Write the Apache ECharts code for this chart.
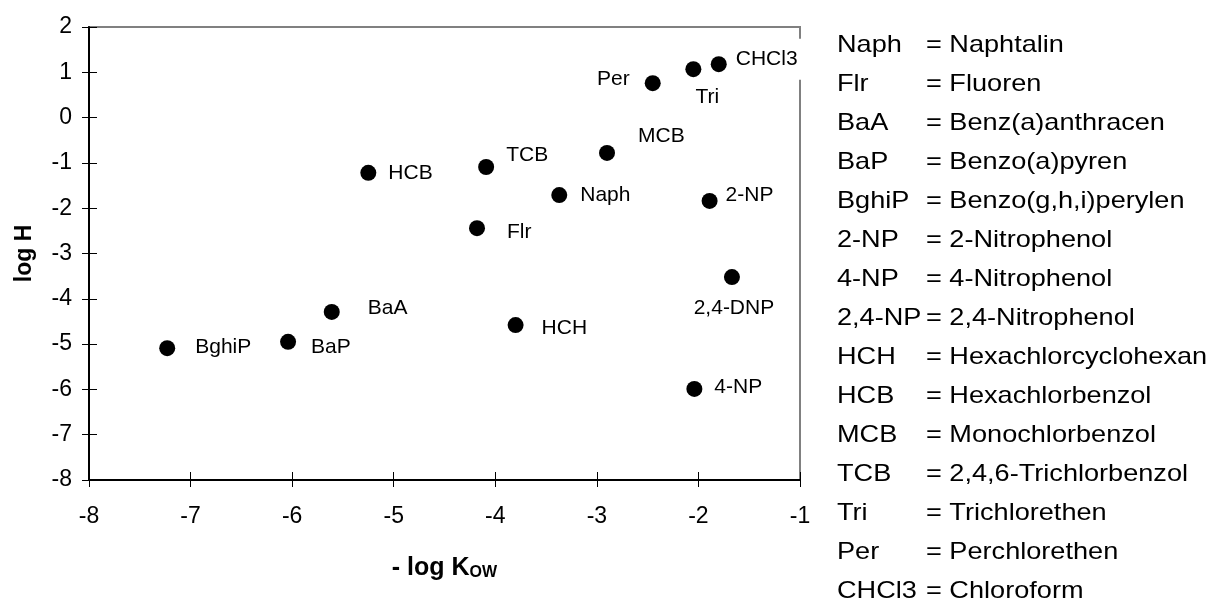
<!DOCTYPE html>
<html>
<head>
<meta charset="utf-8">
<script src="https://cdn.jsdelivr.net/npm/echarts@6/dist/echarts.min.js"></script>
<style>
  html, body { margin: 0; padding: 0; background: #fff; }
  #chart { width: 1220px; height: 601px; }
</style>
</head>
<body>
<div id="chart"></div>
<script>
// substances and their values
const names = ['CHCl3', 'Tri', 'Per', 'MCB', 'TCB', 'HCB', 'Naph', '2-NP', 'Flr', '2,4-DNP', 'BaA', 'BaP', 'BghiP', 'HCH', '4-NP'];
const negLogKow = [-1.80, -2.05, -2.45, -2.90, -4.09, -5.25, -3.37, -1.89, -4.18, -1.67, -5.61, -6.04, -7.23, -3.80, -2.04];
const logH = [1.18, 1.07, 0.76, -0.78, -1.09, -1.22, -1.71, -1.84, -2.44, -3.52, -4.29, -4.95, -5.09, -4.58, -5.99];

// abbreviation list on the right
const abbrs = ['Naph', 'Flr', 'BaA', 'BaP', 'BghiP', '2-NP', '4-NP', '2,4-NP', 'HCH', 'HCB', 'MCB', 'TCB', 'Tri', 'Per', 'CHCl3'];
const meanings = ['Naphtalin', 'Fluoren', 'Benz(a)anthracen', 'Benzo(a)pyren', 'Benzo(g,h,i)perylen', '2-Nitrophenol',
  '4-Nitrophenol', '2,4-Nitrophenol', 'Hexachlorcyclohexan', 'Hexachlorbenzol', 'Monochlorbenzol',
  '2,4,6-Trichlorbenzol', 'Trichlorethen', 'Perchlorethen', 'Chloroform'];

const FONT = 'Liberation Sans, Arial, sans-serif';

// where each point label sits relative to the dot: [dx, dy, align]
const labelPlace = {
  'CHCl3': [14, -5, 'left'],
  'Tri': [14, 28, 'center'],
  'Per': [-23, -4, 'right'],
  'MCB': [31, -17, 'left'],
  'TCB': [20, -12, 'left'],
  'HCB': [20, 0, 'left'],
  'Naph': [21, 0, 'left'],
  '2-NP': [16, -6, 'left'],
  'Flr': [30, 4, 'left'],
  '2,4-DNP': [2, 31, 'center'],
  'BaA': [36, -4, 'left'],
  'BaP': [23, 5, 'left'],
  'BghiP': [28, -1, 'left'],
  'HCH': [26, 3, 'left'],
  '4-NP': [20, -2, 'left']
};

const points = names.map((n, i) => {
  const p = labelPlace[n];
  const label = {
    show: true,
    position: 'inside',
    offset: [p[0], p[1]],
    align: p[2],
    verticalAlign: 'middle',
    formatter: n,
    color: '#000',
    opacity: 1,
    fontSize: 21,
    fontFamily: FONT
  };
  if (n === 'CHCl3') {
    label.backgroundColor = '#fff';
    label.padding = [10, 8, 10, 3];
  }
  return { name: n, value: [negLogKow[i], logH[i]], label: label };
});

const legendItems = [];
abbrs.forEach((a, i) => {
  const y = 45 + i * 39;
  legendItems.push({
    type: 'text', x: 837, y: y, scaleX: 1.13,
    style: { text: a, font: '24px ' + FONT, fill: '#000', verticalAlign: 'middle' }
  });
  legendItems.push({
    type: 'text', x: 926, y: y, scaleX: 1.13,
    style: { text: '= ' + meanings[i], font: '24px ' + FONT, fill: '#000', verticalAlign: 'middle' }
  });
});

const chart = echarts.init(document.getElementById('chart'), null, { renderer: 'canvas' });

const option = {
  animation: false,
  backgroundColor: '#fff',
  grid: {
    left: 89, right: 420, top: 27, bottom: 121,
    show: true, borderColor: '#808080', borderWidth: 2, backgroundColor: 'transparent'
  },
  xAxis: [
    {
      type: 'value', position: 'bottom', min: -8, max: -1, interval: 1,
      name: '{a|- log K}{b|OW}', nameLocation: 'middle', nameGap: 73,
      nameTextStyle: {
        rich: {
          a: { fontSize: 25, fontWeight: 'bold', fontFamily: FONT, color: '#000', lineHeight: 28, verticalAlign: 'bottom' },
          b: { fontSize: 16, fontWeight: 'bold', fontFamily: FONT, color: '#000', lineHeight: 12, verticalAlign: 'bottom' }
        }
      },
      axisLine: { onZero: false, lineStyle: { color: '#000', width: 2 } },
      axisTick: { inside: false, length: 7, lineStyle: { color: '#000', width: 1 } },
      axisLabel: { margin: 25, fontSize: 23, color: '#000', fontFamily: FONT },
      splitLine: { show: false }
    },
    {
      type: 'value', position: 'bottom', min: -8, max: -1, interval: 1,
      axisLine: { show: false, onZero: false },
      axisTick: { inside: true, length: 8, lineStyle: { color: '#000', width: 1 } },
      axisLabel: { show: false },
      splitLine: { show: false }
    }
  ],
  yAxis: [
    {
      type: 'value', position: 'left', min: -8, max: 2, interval: 1,
      name: 'log H', nameLocation: 'middle', nameGap: 53,
      nameTextStyle: { fontSize: 23, fontWeight: 'bold', color: '#000', fontFamily: FONT },
      axisLine: { onZero: false, lineStyle: { color: '#000', width: 2 } },
      axisTick: { inside: false, length: 7, lineStyle: { color: '#000', width: 1 } },
      axisLabel: { margin: 17, fontSize: 23, color: '#000', fontFamily: FONT },
      splitLine: { show: false }
    },
    {
      type: 'value', position: 'left', min: -8, max: 2, interval: 1,
      axisLine: { show: false, onZero: false },
      axisTick: { inside: true, length: 8, lineStyle: { color: '#000', width: 1 } },
      axisLabel: { show: false },
      splitLine: { show: false }
    }
  ],
  series: [
    {
      type: 'scatter',
      xAxisIndex: 0,
      yAxisIndex: 0,
      symbol: 'circle',
      symbolSize: 16,
      itemStyle: { color: '#000', opacity: 1 },
      emphasis: { disabled: true },
      data: points,
      z: 3
    }
  ],
  graphic: legendItems
};

chart.setOption(option);
</script>
</body>
</html>
